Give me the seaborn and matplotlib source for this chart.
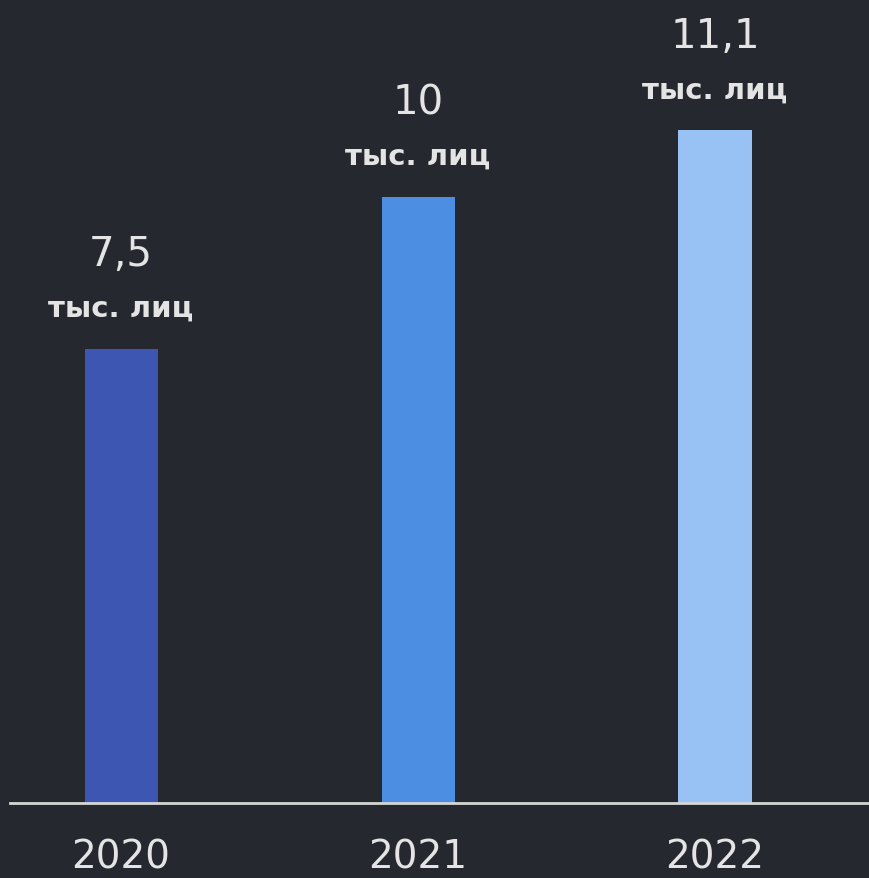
import matplotlib
matplotlib.use("Agg")
import matplotlib.pyplot as plt
import seaborn as sns
import pandas as pd

# data
years = ["2020", "2021", "2022"]
values = [7.5, 10.0, 11.1]
value_labels = ["7,5", "10", "11,1"]
unit_label = "тыс. лиц"
bar_colors = ["#3d56b2", "#4c8fe2", "#98c2f3"]

BG = "#25282e"
TXT = "#e4e4e4"

sns.set_style("dark")
plt.rcParams["font.family"] = ["DejaVu Sans"]

df = pd.DataFrame({"year": years, "value": values})

fig = plt.figure(figsize=(8.7, 8.79), dpi=100, facecolor=BG)
ax = fig.add_axes([0.0115, 0.0853, 0.9885, 0.9147])
ax.set_facecolor(BG)

sns.barplot(data=df, x="year", y="value", hue="year", palette=bar_colors,
            width=0.246, dodge=False, legend=False, saturation=1,
            linewidth=0, ax=ax)

# value labels above bars
for i, (v, lab) in enumerate(zip(values, value_labels)):
    ax.annotate(unit_label, xy=(i, v), xytext=(0, 24), textcoords="offset points",
                ha="center", va="baseline", fontsize=21, fontweight="bold", color=TXT)
    ax.annotate(lab, xy=(i, v), xytext=(0, 60), textcoords="offset points",
                ha="center", va="baseline", fontsize=29, color=TXT)

ax.set_xlim(-0.374, 2.522)
ax.set_ylim(0, 13.27)
ax.set_xlabel("")
ax.set_ylabel("")
ax.set_yticks([])
ax.grid(False)
ax.tick_params(axis="x", length=0, pad=25, labelsize=28, labelcolor=TXT)
for s in ["top", "right", "left"]:
    ax.spines[s].set_visible(False)
ax.spines["bottom"].set_color("#d6d6d6")
ax.spines["bottom"].set_linewidth(2)

fig.savefig("out.png", dpi=100, facecolor=BG)
plt.close(fig)
